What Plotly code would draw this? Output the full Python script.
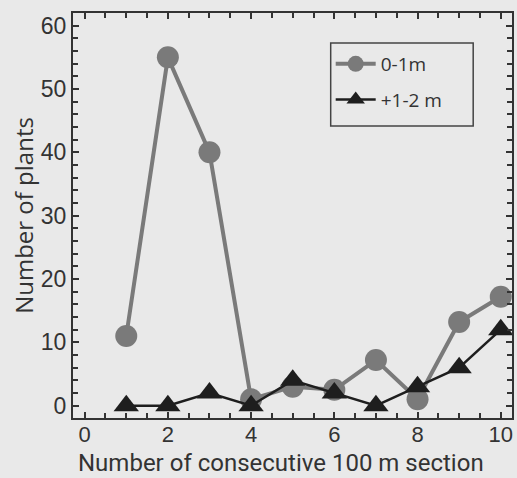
import plotly.graph_objects as go

sections = [1, 2, 3, 4, 5, 6, 7, 8, 9, 10]
plants_0_1m = [11, 55, 40, 1, 3, 2.5, 7.2, 1, 13.2, 17.2]
plants_1_2m = [0, 0, 2, 0, 4, 2, 0, 3, 6, 12]
x_tick_vals = [0, 2, 4, 6, 8, 10]
y_tick_vals = [0, 10, 20, 30, 40, 50, 60]
x_title = "Number of consecutive 100 m section"
y_title = "Number of plants"

bg = "#e9e9e9"
ink = "#333333"
fig = go.Figure()
fig.add_trace(go.Scatter(
    x=sections, y=plants_0_1m, name="0-1m", mode="lines+markers", legendgroup="a",
    line=dict(color="#7a7a7a", width=4),
    marker=dict(symbol="circle", size=22, color="#7a7a7a"),
))
fig.add_trace(go.Scatter(
    x=sections, y=plants_1_2m, name="+1-2 m", mode="lines+markers", legendgroup="b",
    line=dict(color="#1e1e1e", width=2.5),
    marker=dict(symbol="triangle-up", size=22, color="#1e1e1e"),
))

axis_common = dict(
    showgrid=False, zeroline=False, showline=True, linecolor=ink, linewidth=2,
    mirror="ticks", ticks="inside", tickcolor=ink, ticklen=6, tickwidth=1.5,
)
fig.update_layout(
    width=517, height=478,
    margin=dict(l=73, r=3, t=13, b=60),
    paper_bgcolor=bg, plot_bgcolor=bg,
    showlegend=True,
    legend=dict(x=0.587, y=0.921, xanchor="left", yanchor="top",
                bgcolor="rgba(0,0,0,0)", borderwidth=0,
                font=dict(family="Open Sans, Noto Sans", size=19, color=ink),
                itemsizing="trace", itemwidth=40, tracegroupgap=8),
    shapes=[dict(type="rect", xref="paper", yref="paper",
                 x0=0.587, x1=0.9116, y0=0.721, y1=0.926,
                 line=dict(color="#444444", width=1.5), fillcolor=bg, layer="below")],
    annotations=[dict(text=x_title, xref="paper", yref="paper", x=0.473, y=-0.148,
                      xanchor="center", yanchor="bottom", showarrow=False, borderpad=0,
                      font=dict(family="Roboto, Lato", size=24, color=ink))],
)
fig.update_xaxes(
    range=[-0.28, 10.27], tickmode="array", tickvals=x_tick_vals,
    minor=dict(dtick=0.5, tick0=0, ticks="inside", ticklen=5, tickcolor=ink, tickwidth=1.5),
    tickfont=dict(family="Liberation Sans, Arial", size=22, color=ink),
    ticklabelstandoff=-4,
    **axis_common,
)
fig.update_yaxes(
    range=[-1.95, 62], tickmode="array", tickvals=y_tick_vals,
    minor=dict(dtick=2, tick0=0, ticks="inside", ticklen=5, tickcolor=ink, tickwidth=1.5),
    tickfont=dict(family="Liberation Sans, Arial", size=23, color=ink),
    title=dict(text=y_title, standoff=0,
               font=dict(family="Open Sans, Noto Sans", size=24, color=ink)),
    **axis_common,
)
fig.write_html("out.html", config={"displayModeBar": False},
               post_script="document.body.style.margin='0';")
